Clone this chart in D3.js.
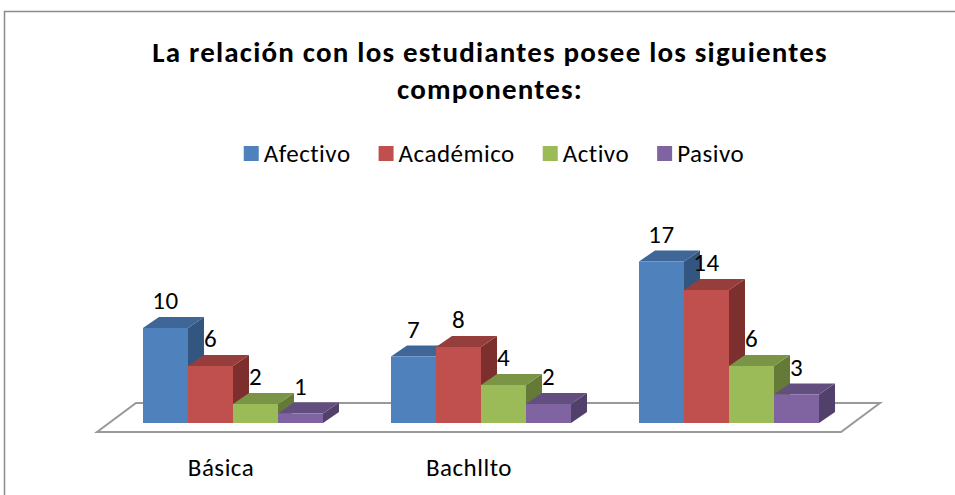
<!DOCTYPE html>
<html>
<head>
<meta charset="utf-8">
<script src="https://cdn.jsdelivr.net/npm/d3@7"></script>
<style>
  body { margin: 0; background: #fff; }
  svg { display: block; font-family: Carlito, Lato, "Noto Sans", sans-serif; }
</style>
</head>
<body>
<svg id="chart" width="955" height="495"></svg>
<script>
const categories = ["Básica", "Bachllto", ""];
const seriesNames = ["Afectivo", "Académico", "Activo", "Pasivo"];
const afectivo = [10, 7, 17];
const academico = [6, 8, 14];
const activo = [2, 4, 6];
const pasivo = [1, 2, 3];
const seriesValues = [afectivo, academico, activo, pasivo];

const frontColors = ["#4f81bd", "#c0504d", "#9bbb59", "#8064a2"];
const topColors = ["#3e6696", "#963e3b", "#7a9546", "#634e80"];
const sideColors = ["#335680", "#7c2f2d", "#647a36", "#51406a"];

const svg = d3.select("#chart");

// outer frame (only left and top edges are visible)
svg.append("path")
    .attr("d", "M4.5,495 L4.5,11.5 L955,11.5")
    .attr("fill", "none")
    .attr("stroke", "#8c8c8c")
    .attr("stroke-width", 1.5);

// title
const title = svg.append("text")
    .attr("text-anchor", "middle")
    .attr("font-weight", "bold")
    .attr("font-size", 29)
    .attr("letter-spacing", 1.2)
    .attr("fill", "#000");
title.append("tspan").attr("x", 490).attr("y", 62)
    .text("La relación con los estudiantes posee los siguientes");
title.append("tspan").attr("x", 490).attr("y", 99)
    .text("componentes:");

// scales
const x0 = d3.scaleBand()
    .domain(categories.map((c, i) => i))
    .range([109, 853])
    .padding(0);

const bw = x0.bandwidth();
const x1 = d3.scaleBand()
    .domain(seriesNames)
    .range([bw * 0.137, bw * 0.863])
    .padding(0);

const y = d3.scaleLinear()
    .domain([0, 20])
    .range([423, 233]);

// depth offsets
const bdx = 16, bdy = -11;          // bar depth
const fdx = 39, fdy = -29;          // floor depth
const fFront = { dx: -12, dy: 9 };  // floor front edge relative to bar front

// floor
const fl = x0.range()[0] + fFront.dx, fr = x0.range()[1] + fFront.dx;
const fy = y(0) + fFront.dy;
svg.append("path")
    .attr("d", `M${fl},${fy} L${fr},${fy} L${fr + fdx},${fy + fdy} L${fl + fdx},${fy + fdy} Z`)
    .attr("fill", "#fff")
    .attr("stroke", "#999")
    .attr("stroke-width", 2)
    .attr("stroke-linejoin", "miter");

// bars
const bars = [];
categories.forEach((c, ci) => {
    seriesNames.forEach((s, si) => {
        bars.push({ ci, si, value: seriesValues[si][ci] });
    });
});

const barG = svg.append("g");
bars.forEach(d => {
    const x = x0(d.ci) + x1(seriesNames[d.si]);
    const w = x1.bandwidth();
    const yt = y(d.value), yb = y(0);
    const g = barG.append("g");
    g.append("path")
        .attr("d", `M${x + w},${yb} L${x + w + bdx},${yb + bdy} L${x + w + bdx},${yt + bdy} L${x + w},${yt} Z`)
        .attr("fill", sideColors[d.si]);
    g.append("path")
        .attr("d", `M${x},${yt} L${x + w},${yt} L${x + w + bdx},${yt + bdy} L${x + bdx},${yt + bdy} Z`)
        .attr("fill", topColors[d.si]);
    g.append("rect")
        .attr("x", x)
        .attr("y", yt)
        .attr("width", w)
        .attr("height", yb - yt)
        .attr("fill", frontColors[d.si]);
});

// value labels
svg.append("g")
    .selectAll("text")
    .data(bars)
    .enter()
    .append("text")
    .attr("x", d => x0(d.ci) + x1(seriesNames[d.si]) + x1.bandwidth() / 2)
    .attr("y", d => y(d.value) - 19)
    .attr("text-anchor", "middle")
    .attr("font-size", 25)
    .attr("letter-spacing", 0.5)
    .attr("fill", "#000")
    .text(d => d.value);

// category labels
svg.append("g")
    .selectAll("text")
    .data(categories)
    .enter()
    .append("text")
    .attr("x", (d, i) => x0(i) + bw / 2 + fFront.dx)
    .attr("y", 476)
    .attr("text-anchor", "middle")
    .attr("font-size", 25)
    .attr("letter-spacing", 0.5)
    .attr("fill", "#000")
    .text(d => d);

// legend
const legend = svg.append("g");
const items = legend.selectAll("g")
    .data(seriesNames)
    .enter()
    .append("g");
items.append("rect")
    .attr("width", 15)
    .attr("height", 15)
    .attr("y", 146)
    .attr("fill", (d, i) => frontColors[i]);
items.append("text")
    .attr("x", 20)
    .attr("y", 162)
    .attr("font-size", 25)
    .attr("letter-spacing", 0.5)
    .attr("fill", "#000")
    .text(d => d);

let cursor = 0;
const offsets = [];
items.each(function () {
    offsets.push(cursor);
    const tw = d3.select(this).select("text").node().getComputedTextLength();
    cursor += 20 + tw + 28;
});
const totalW = cursor - 28;
const startX = 494 - totalW / 2;
items.attr("transform", (d, i) => `translate(${startX + offsets[i]},0)`);
</script>
</body>
</html>
